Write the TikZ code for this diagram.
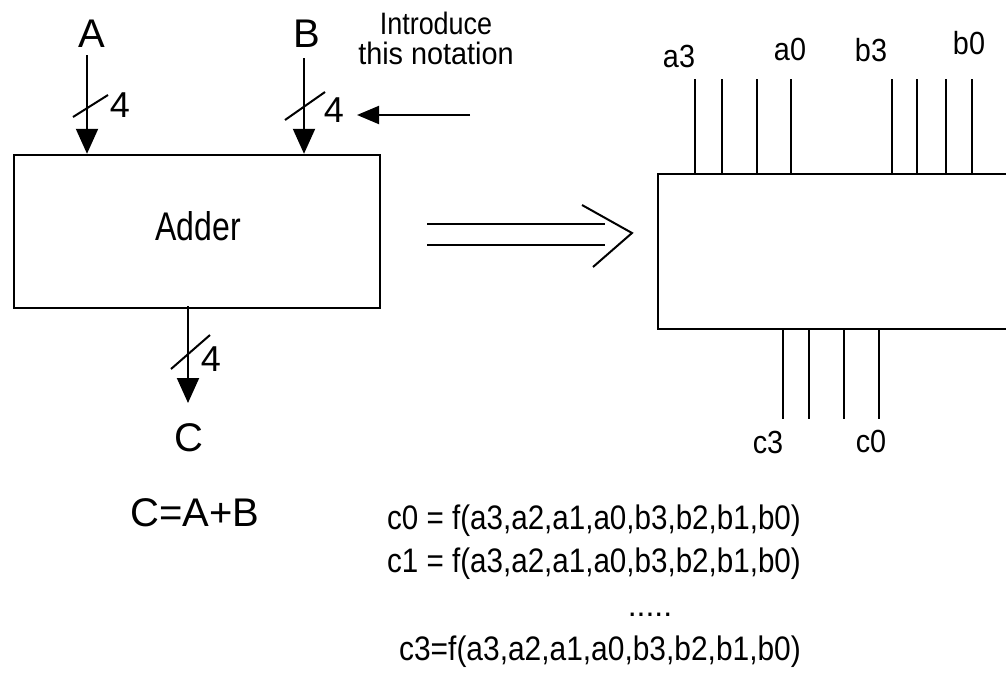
\documentclass[tikz,border=0pt]{standalone}
\usepackage{fontspec}
\setmainfont{Liberation Sans}
\usepackage{tikz}
\usetikzlibrary{arrows.meta,positioning,calc}
\tikzset{
  blk/.style={draw,line width=2.4pt,inner sep=0pt},
  lbl/.style={inner sep=0pt,font=\fontsize{32}{34}\selectfont},
  eqn/.style={inner sep=0pt,font=\fontsize{34}{36}\selectfont},
  mid/.style={inner sep=0pt,font=\fontsize{36}{38}\selectfont},
  big/.style={inner sep=0pt,font=\fontsize{40}{42}\selectfont},
  wire/.style={line width=2pt},
  bus/.style={wire,-{Triangle[length=25pt,width=22pt]}},
  note/.style={wire,-{Triangle[length=22pt,width=18pt]}},
}
\newcommand{\sq}[2]{\scalebox{#1}[1]{#2}}

\begin{document}
\begin{tikzpicture}[x=1pt,y=-1pt]
\useasboundingbox (0,0) rectangle (1006,672);
\fill[white] (0,0) rectangle (1006,672);
\clip (0,0) rectangle (1006,672);

% adder with 4-bit buses
\node[blk,minimum width=366pt,minimum height=153pt] (adder) at (197,231.5) {};
\node[big] (addtxt) at (198,226) {\sq{0.8}{Adder}};
\node[big] (A) at (92,34) {A};
\node[big] (B) at (307,34) {B};
\coordinate (ain) at (87,55);
\coordinate (bin) at (304,58);
\draw[bus] (ain) -- (ain |- adder.north);
\draw[bus] (bin) -- (bin |- adder.north);
\draw[wire] (73,117) -- (108,95);
\draw[wire] (285,120) -- (325,92);
\node[mid] (na) at (120,105) {4};
\node[mid] (nb) at (334,110) {4};

\node[inner sep=0pt,align=center,font=\fontsize{31}{30}\selectfont] (intro) at (436,38)
  {\sq{0.87}{Introduce}\\\sq{0.93}{this notation}};
\coordinate (tail) at (470,115);
\draw[note] (tail) -- (357,115);

\coordinate (cout) at (188,306);
\draw[bus] (cout) -- (188,403);
\draw[wire] (171,369) -- (210,335);
\node[mid] (nc) at (211,359) {4};
\node[big] (C) at (189,438) {C};
\node[big] (sum) at (195,513) {C=A+B};

% becomes
\draw[wire] (427,224) -- (605,224);
\draw[wire] (427,245) -- (605,245);
\draw[wire] (582,205) -- (632,233) -- (593,267);

% bit-level view
\node[blk,anchor=north west,minimum width=370pt,minimum height=155pt] (bits) at (657,173) {};
\foreach \x in {695,722,757,791,892,917,946,972}
  \draw[wire] (\x,79) -- (\x,173);
\foreach \x in {783,809,844,879}
  \draw[wire] (\x,328) -- (\x,419);
\node[lbl] (a3) at (679,56) {\sq{0.9}{a3}};
\node[lbl] (a0) at (790,49) {\sq{0.9}{a0}};
\node[lbl] (b3) at (871,50) {\sq{0.9}{b3}};
\node[lbl] (b0) at (969,43) {\sq{0.9}{b0}};
\node[lbl] (c3) at (768,442) {\sq{0.9}{c3}};
\node[lbl] (c0) at (871,441) {\sq{0.9}{c0}};

% output functions
\node[eqn] (eq0) at (594,521) {\sq{0.87}{c0 = f(a3,a2,a1,a0,b3,b2,b1,b0)}};
\node[eqn] (eq1) at (594,564) {\sq{0.87}{c1 = f(a3,a2,a1,a0,b3,b2,b1,b0)}};
\node[lbl] (dots) at (650,615) {.....};
\node[eqn] (eq3) at (600,652) {\sq{0.88}{c3=f(a3,a2,a1,a0,b3,b2,b1,b0)}};
\end{tikzpicture}
\end{document}
